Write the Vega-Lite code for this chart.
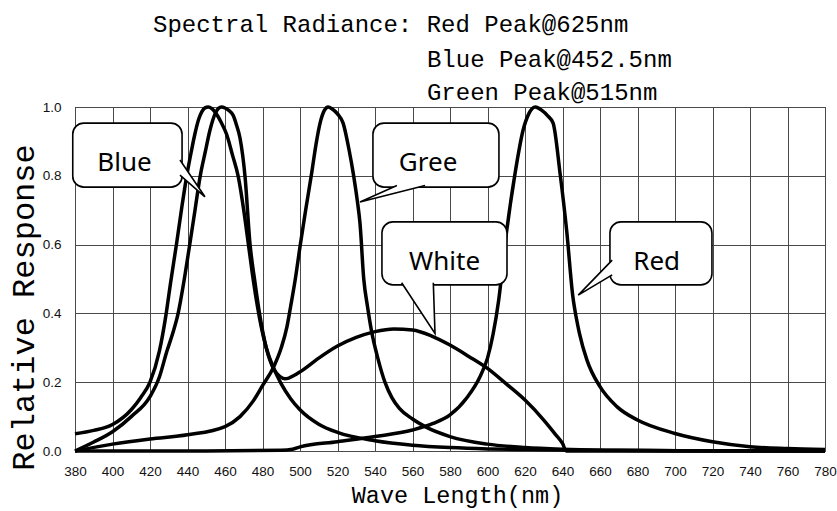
{
  "$schema": "https://vega.github.io/schema/vega-lite/v6.json",
  "width": 750,
  "height": 344,
  "autosize": "none",
  "padding": {"left": 75, "top": 107, "right": 12, "bottom": 60},
  "background": "white",
  "config": {
    "view": {"stroke": "#000", "strokeWidth": 1},
    "axis": {
      "labelFont": "Liberation Sans",
      "labelFontSize": 13.5,
      "labelColor": "#111",
      "labelOverlap": false,
      "ticks": false,
      "domain": false,
      "grid": true,
      "gridColor": "#4a4a4a",
      "gridOpacity": 1,
      "gridWidth": 1,
      "titleFont": "Liberation Mono",
      "titleFontWeight": "normal",
      "titleColor": "#000"
    }
  },
  "datasets": {
    "curves": [
      {"series": "Blue", "nm": 380, "r": 0.05},
      {"series": "Blue", "nm": 390, "r": 0.06},
      {"series": "Blue", "nm": 400, "r": 0.077},
      {"series": "Blue", "nm": 410, "r": 0.12},
      {"series": "Blue", "nm": 415, "r": 0.155},
      {"series": "Blue", "nm": 420, "r": 0.2},
      {"series": "Blue", "nm": 425, "r": 0.29},
      {"series": "Blue", "nm": 428.5, "r": 0.395},
      {"series": "Blue", "nm": 431, "r": 0.49},
      {"series": "Blue", "nm": 434.2, "r": 0.604},
      {"series": "Blue", "nm": 437, "r": 0.71},
      {"series": "Blue", "nm": 439.5, "r": 0.797},
      {"series": "Blue", "nm": 442, "r": 0.87},
      {"series": "Blue", "nm": 444, "r": 0.923},
      {"series": "Blue", "nm": 446, "r": 0.965},
      {"series": "Blue", "nm": 447.6, "r": 0.986},
      {"series": "Blue", "nm": 449.5, "r": 0.998},
      {"series": "Blue", "nm": 451, "r": 1.0},
      {"series": "Blue", "nm": 453, "r": 0.995},
      {"series": "Blue", "nm": 454.7, "r": 0.985},
      {"series": "Blue", "nm": 458, "r": 0.955},
      {"series": "Blue", "nm": 460.9, "r": 0.92},
      {"series": "Blue", "nm": 464, "r": 0.86},
      {"series": "Blue", "nm": 467.1, "r": 0.797},
      {"series": "Blue", "nm": 470, "r": 0.7},
      {"series": "Blue", "nm": 472.4, "r": 0.604},
      {"series": "Blue", "nm": 475, "r": 0.5},
      {"series": "Blue", "nm": 478.3, "r": 0.39},
      {"series": "Blue", "nm": 482, "r": 0.3},
      {"series": "Blue", "nm": 486, "r": 0.24},
      {"series": "Blue", "nm": 490, "r": 0.195},
      {"series": "Blue", "nm": 495, "r": 0.152},
      {"series": "Blue", "nm": 500, "r": 0.12},
      {"series": "Blue", "nm": 510, "r": 0.078},
      {"series": "Blue", "nm": 520, "r": 0.054},
      {"series": "Blue", "nm": 540, "r": 0.03},
      {"series": "Blue", "nm": 560, "r": 0.017},
      {"series": "Blue", "nm": 580, "r": 0.01},
      {"series": "Blue", "nm": 600, "r": 0.006},
      {"series": "Blue", "nm": 620, "r": 0.004},
      {"series": "Blue", "nm": 650, "r": 0.002},
      {"series": "Blue", "nm": 700, "r": 0.001},
      {"series": "Blue", "nm": 780, "r": 0.0},

      {"series": "White", "nm": 380, "r": 0.0},
      {"series": "White", "nm": 390, "r": 0.026},
      {"series": "White", "nm": 400, "r": 0.056},
      {"series": "White", "nm": 410, "r": 0.1},
      {"series": "White", "nm": 420, "r": 0.158},
      {"series": "White", "nm": 425, "r": 0.215},
      {"series": "White", "nm": 429, "r": 0.29},
      {"series": "White", "nm": 432, "r": 0.34},
      {"series": "White", "nm": 435, "r": 0.4},
      {"series": "White", "nm": 438, "r": 0.49},
      {"series": "White", "nm": 441.3, "r": 0.604},
      {"series": "White", "nm": 444, "r": 0.7},
      {"series": "White", "nm": 446.7, "r": 0.797},
      {"series": "White", "nm": 449.5, "r": 0.87},
      {"series": "White", "nm": 452, "r": 0.933},
      {"series": "White", "nm": 454.7, "r": 0.98},
      {"series": "White", "nm": 456.5, "r": 0.996},
      {"series": "White", "nm": 458.2, "r": 1.0},
      {"series": "White", "nm": 460, "r": 0.997},
      {"series": "White", "nm": 462, "r": 0.99},
      {"series": "White", "nm": 464.4, "r": 0.975},
      {"series": "White", "nm": 466, "r": 0.95},
      {"series": "White", "nm": 468, "r": 0.91},
      {"series": "White", "nm": 470.7, "r": 0.797},
      {"series": "White", "nm": 473.3, "r": 0.604},
      {"series": "White", "nm": 476, "r": 0.49},
      {"series": "White", "nm": 478.7, "r": 0.39},
      {"series": "White", "nm": 482, "r": 0.3},
      {"series": "White", "nm": 486, "r": 0.238},
      {"series": "White", "nm": 489, "r": 0.218},
      {"series": "White", "nm": 492, "r": 0.21},
      {"series": "White", "nm": 494, "r": 0.212},
      {"series": "White", "nm": 497, "r": 0.22},
      {"series": "White", "nm": 500, "r": 0.23},
      {"series": "White", "nm": 510, "r": 0.27},
      {"series": "White", "nm": 520, "r": 0.305},
      {"series": "White", "nm": 530, "r": 0.33},
      {"series": "White", "nm": 540, "r": 0.347},
      {"series": "White", "nm": 550, "r": 0.355},
      {"series": "White", "nm": 560, "r": 0.352},
      {"series": "White", "nm": 570, "r": 0.335},
      {"series": "White", "nm": 580, "r": 0.308},
      {"series": "White", "nm": 590, "r": 0.275},
      {"series": "White", "nm": 600, "r": 0.24},
      {"series": "White", "nm": 610, "r": 0.195},
      {"series": "White", "nm": 620, "r": 0.148},
      {"series": "White", "nm": 630, "r": 0.09},
      {"series": "White", "nm": 636, "r": 0.05},
      {"series": "White", "nm": 640, "r": 0.022},
      {"series": "White", "nm": 642, "r": 0.0},
      {"series": "White", "nm": 700, "r": 0.0},
      {"series": "White", "nm": 780, "r": 0.0},

      {"series": "Green", "nm": 380, "r": 0.0},
      {"series": "Green", "nm": 400, "r": 0.02},
      {"series": "Green", "nm": 420, "r": 0.035},
      {"series": "Green", "nm": 440, "r": 0.047},
      {"series": "Green", "nm": 460, "r": 0.071},
      {"series": "Green", "nm": 468, "r": 0.1},
      {"series": "Green", "nm": 475, "r": 0.145},
      {"series": "Green", "nm": 480, "r": 0.19},
      {"series": "Green", "nm": 486, "r": 0.245},
      {"series": "Green", "nm": 490, "r": 0.3},
      {"series": "Green", "nm": 493, "r": 0.36},
      {"series": "Green", "nm": 495, "r": 0.42},
      {"series": "Green", "nm": 497.5, "r": 0.5},
      {"series": "Green", "nm": 500, "r": 0.594},
      {"series": "Green", "nm": 503, "r": 0.7},
      {"series": "Green", "nm": 506.2, "r": 0.807},
      {"series": "Green", "nm": 508.5, "r": 0.89},
      {"series": "Green", "nm": 510.7, "r": 0.953},
      {"series": "Green", "nm": 513, "r": 0.99},
      {"series": "Green", "nm": 515, "r": 1.0},
      {"series": "Green", "nm": 517, "r": 0.995},
      {"series": "Green", "nm": 520, "r": 0.98},
      {"series": "Green", "nm": 523, "r": 0.953},
      {"series": "Green", "nm": 526, "r": 0.88},
      {"series": "Green", "nm": 528.4, "r": 0.807},
      {"series": "Green", "nm": 530.5, "r": 0.73},
      {"series": "Green", "nm": 532, "r": 0.662},
      {"series": "Green", "nm": 534, "r": 0.5},
      {"series": "Green", "nm": 536, "r": 0.42},
      {"series": "Green", "nm": 538.2, "r": 0.347},
      {"series": "Green", "nm": 541.5, "r": 0.27},
      {"series": "Green", "nm": 545.3, "r": 0.2},
      {"series": "Green", "nm": 549, "r": 0.155},
      {"series": "Green", "nm": 553, "r": 0.124},
      {"series": "Green", "nm": 560, "r": 0.093},
      {"series": "Green", "nm": 567, "r": 0.07},
      {"series": "Green", "nm": 580, "r": 0.042},
      {"series": "Green", "nm": 600, "r": 0.02},
      {"series": "Green", "nm": 620, "r": 0.01},
      {"series": "Green", "nm": 640, "r": 0.005},
      {"series": "Green", "nm": 670, "r": 0.002},
      {"series": "Green", "nm": 720, "r": 0.0},
      {"series": "Green", "nm": 780, "r": 0.0},

      {"series": "Red", "nm": 380, "r": 0.0},
      {"series": "Red", "nm": 450, "r": 0.0},
      {"series": "Red", "nm": 490, "r": 0.002},
      {"series": "Red", "nm": 496, "r": 0.005},
      {"series": "Red", "nm": 500, "r": 0.012},
      {"series": "Red", "nm": 520, "r": 0.027},
      {"series": "Red", "nm": 540, "r": 0.042},
      {"series": "Red", "nm": 560, "r": 0.061},
      {"series": "Red", "nm": 571, "r": 0.08},
      {"series": "Red", "nm": 580, "r": 0.105},
      {"series": "Red", "nm": 589, "r": 0.155},
      {"series": "Red", "nm": 596, "r": 0.216},
      {"series": "Red", "nm": 600, "r": 0.27},
      {"series": "Red", "nm": 603, "r": 0.34},
      {"series": "Red", "nm": 606, "r": 0.44},
      {"series": "Red", "nm": 610, "r": 0.63},
      {"series": "Red", "nm": 614.7, "r": 0.807},
      {"series": "Red", "nm": 619, "r": 0.933},
      {"series": "Red", "nm": 622, "r": 0.98},
      {"series": "Red", "nm": 625.5, "r": 1.0},
      {"series": "Red", "nm": 629, "r": 0.99},
      {"series": "Red", "nm": 632, "r": 0.975},
      {"series": "Red", "nm": 635, "r": 0.953},
      {"series": "Red", "nm": 638.7, "r": 0.807},
      {"series": "Red", "nm": 642.2, "r": 0.642},
      {"series": "Red", "nm": 645.5, "r": 0.45},
      {"series": "Red", "nm": 647.6, "r": 0.38},
      {"series": "Red", "nm": 649, "r": 0.343},
      {"series": "Red", "nm": 653, "r": 0.265},
      {"series": "Red", "nm": 660, "r": 0.187},
      {"series": "Red", "nm": 669, "r": 0.129},
      {"series": "Red", "nm": 680, "r": 0.09},
      {"series": "Red", "nm": 700, "r": 0.051},
      {"series": "Red", "nm": 720, "r": 0.027},
      {"series": "Red", "nm": 740, "r": 0.0125},
      {"series": "Red", "nm": 760, "r": 0.007},
      {"series": "Red", "nm": 780, "r": 0.004}
    ],
    "boxes": [
      {"label": "Blue", "nm": 378.8, "nm2": 437.1, "r": 0.767, "r2": 0.953},
      {"label": "Gree", "nm": 538.9, "nm2": 606.1, "r": 0.767, "r2": 0.953},
      {"label": "White", "nm": 543.7, "nm2": 610.4, "r": 0.483, "r2": 0.666},
      {"label": "Red", "nm": 665.3, "nm2": 719.7, "r": 0.483, "r2": 0.666}
    ],
    "labels": [
      {"label": "Blue", "nm": 406.4, "r": 0.814},
      {"label": "Gree", "nm": 568.3, "r": 0.814},
      {"label": "White", "nm": 577.1, "r": 0.526},
      {"label": "Red", "nm": 690.2, "r": 0.526}
    ],
    "pointers": [
      {"label": "Blue", "ord": 0, "nm": 436, "r": 0.846},
      {"label": "Blue", "ord": 1, "nm": 449.3, "r": 0.739},
      {"label": "Blue", "ord": 2, "nm": 436, "r": 0.802},
      {"label": "Gree", "ord": 0, "nm": 551.7, "r": 0.772},
      {"label": "Gree", "ord": 1, "nm": 532, "r": 0.724},
      {"label": "Gree", "ord": 2, "nm": 566.7, "r": 0.772},
      {"label": "White", "ord": 0, "nm": 554.2, "r": 0.489},
      {"label": "White", "ord": 1, "nm": 572, "r": 0.342},
      {"label": "White", "ord": 2, "nm": 571.1, "r": 0.489},
      {"label": "Red", "ord": 0, "nm": 666.5, "r": 0.555},
      {"label": "Red", "ord": 1, "nm": 648.4, "r": 0.453},
      {"label": "Red", "ord": 2, "nm": 666.5, "r": 0.512}
    ],
    "heading": [
      {"txt": "Spectral Radiance: Red Peak@625nm", "nm": 421.6, "r": 1.218},
      {"txt": "Blue Peak@452.5nm", "nm": 567.7, "r": 1.116},
      {"txt": "Green Peak@515nm", "nm": 567.7, "r": 1.02}
    ]
  },
  "encoding": {
    "x": {
      "field": "nm", "type": "quantitative",
      "scale": {"domain": [380, 780], "nice": false, "zero": false},
      "axis": {
        "values": [380, 400, 420, 440, 460, 480, 500, 520, 540, 560, 580, 600, 620, 640, 660, 680, 700, 720, 740, 760, 780],
        "labelPadding": 13,
        "labelFlush": false,
        "labelOverlap": false,
        "titleFontSize": 23.5,
        "titlePadding": 6,
        "titleX": 382
      },
      "title": "Wave Length(nm)"
    },
    "y": {
      "field": "r", "type": "quantitative",
      "scale": {"domain": [0, 1], "nice": false, "zero": true},
      "axis": {
        "values": [0, 0.2, 0.4, 0.6, 0.8, 1.0],
        "format": ".1f",
        "labelPadding": 14,
        "labelFlush": false,
        "labelOverlap": false,
        "titleFontSize": 32,
        "titleX": -42,
        "titleY": 200,
        "titleBaseline": "alphabetic"
      },
      "title": "Relative Response"
    }
  },
  "layer": [
    {
      "data": {"name": "curves"},
      "mark": {"type": "line", "color": "#000", "strokeWidth": 3.5, "interpolate": "monotone", "strokeJoin": "round"},
      "encoding": {
        "detail": {"field": "series", "type": "nominal"}
      }
    },
    {
      "data": {"name": "boxes"},
      "mark": {"type": "rect", "fill": "#fff", "stroke": "#000", "strokeWidth": 1.6, "cornerRadius": 11},
      "encoding": {
        "x2": {"field": "nm2"},
        "y2": {"field": "r2"}
      }
    },
    {
      "data": {"name": "pointers"},
      "mark": {"type": "line", "fill": "#fff", "stroke": "#000", "strokeWidth": 1.6, "interpolate": "linear"},
      "encoding": {
        "detail": {"field": "label", "type": "nominal"},
        "order": {"field": "ord", "type": "quantitative"}
      }
    },
    {
      "data": {"name": "labels"},
      "mark": {"type": "text", "font": "Noto Sans", "fontSize": 26, "color": "#000", "align": "center", "baseline": "alphabetic"},
      "encoding": {
        "text": {"field": "label", "type": "nominal"}
      }
    },
    {
      "data": {"name": "heading"},
      "mark": {"type": "text", "font": "Liberation Mono", "fontSize": 24, "color": "#000", "align": "left", "baseline": "alphabetic", "clip": false},
      "encoding": {
        "text": {"field": "txt", "type": "nominal"}
      }
    }
  ]
}
